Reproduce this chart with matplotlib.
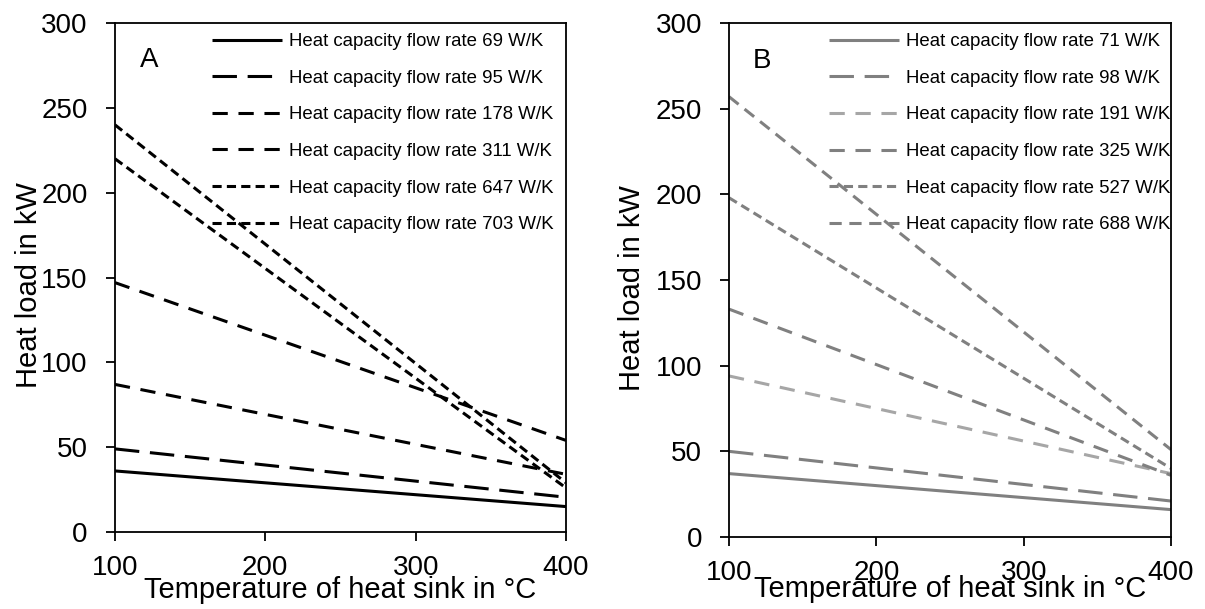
import matplotlib
matplotlib.use('Agg')
import matplotlib.pyplot as plt

plt.rcParams['font.family'] = ['Liberation Sans', 'DejaVu Sans']

# temperature of heat sink (x end points)
temps = [100, 400]

# panel A: heat load in kW at 100 and 400 °C
flows_a = [69, 95, 178, 311, 647, 703]
loads_a = [
    [36, 15],
    [49, 20.5],
    [87, 34],
    [147, 54],
    [220, 26],
    [240, 29],
]

# panel B
flows_b = [71, 98, 191, 325, 527, 688]
loads_b = [
    [37, 16],
    [50, 21],
    [94, 37],
    [133, 36],
    [198, 40],
    [257, 51],
]

# dash styles (in linewidth units)
solid = (None, None)
long_dash = (8, 3.5)
mid_dash = (5, 3.5)
mid_dash2 = (4, 2.5)
short_dash = (3, 1.7)

styles_a = [solid, long_dash, mid_dash, mid_dash, short_dash, short_dash]
colors_a = ['black'] * 6
styles_b = [solid, long_dash, mid_dash, mid_dash, short_dash, mid_dash2]
colors_b = ['#808080', '#808080', '#a6a6a6', '#808080', '#808080', '#808080']

fig = plt.figure(figsize=(12.05, 6.09), dpi=100)
ax_a = fig.add_axes([0.0954, 0.1264, 0.3743, 0.8358])
ax_b = fig.add_axes([0.605, 0.1182, 0.3668, 0.844])


def draw_panel(ax, flows, loads, styles, colors, letter, leg_x, ylab_x, xlab_y):
    for flow, vals, dash, col in zip(flows, loads, styles, colors):
        line, = ax.plot(temps, vals, color=col, lw=2.2,
                        label=f'Heat capacity flow rate {flow} W/K',
                        solid_capstyle='butt', dash_capstyle='butt')
        if dash[0] is not None:
            line.set_dashes(dash)
    ax.set_xlim(100, 400)
    ax.set_ylim(0, 300)
    ax.set_xticks([100, 200, 300, 400])
    ax.set_yticks([0, 50, 100, 150, 200, 250, 300])
    ax.tick_params(direction='out', length=6.5, width=1.3, labelsize=20)
    ax.tick_params(axis='x', pad=10)
    ax.tick_params(axis='y', pad=13)
    for s in ax.spines.values():
        s.set_linewidth(1.3)
    ax.set_xlabel('Temperature of heat sink in °C', fontsize=21)
    ax.xaxis.set_label_coords(0.5, xlab_y)
    ax.xaxis.label.set_verticalalignment('baseline')
    ax.set_ylabel('Heat load in kW', fontsize=21)
    ax.yaxis.set_label_coords(ylab_x, 0.485)
    ax.yaxis.label.set_verticalalignment('center')
    ax.text(0.075, 0.927, letter, transform=ax.transAxes, fontsize=20,
            ha='center', va='center')
    ax.legend(loc='upper left', bbox_to_anchor=(leg_x, 0.98), frameon=False,
              fontsize=13.4, handlelength=3.75, handletextpad=0.4,
              labelspacing=1.05, borderpad=0, borderaxespad=0)


draw_panel(ax_a, flows_a, loads_a, styles_a, colors_a, 'A', 0.215, -0.19, -0.13)
draw_panel(ax_b, flows_b, loads_b, styles_b, colors_b, 'B', 0.226, -0.219, -0.117)

fig.savefig('out.png', dpi=100)
